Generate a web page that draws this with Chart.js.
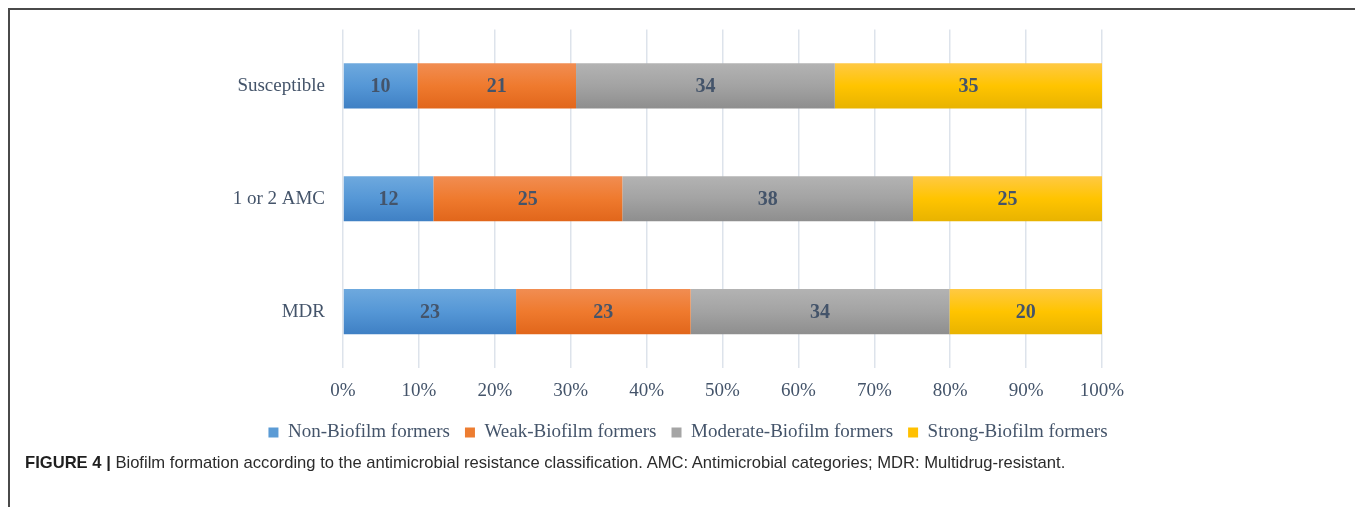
<!DOCTYPE html>
<html lang="en">
<head>
  <meta charset="UTF-8">
  <title>Figure 4 - Biofilm formation</title>
  <script src="https://cdn.jsdelivr.net/npm/chart.js"></script>
  <style>
    html, body { margin: 0; padding: 0; background: #fff; }
    body { width: 1355px; height: 507px; position: relative; overflow: hidden; }
    .frame { position: absolute; left: 8px; top: 8px; width: 1400px; height: 600px;
             border-left: 2px solid #4a4a4a; border-top: 2px solid #4a4a4a; }
    .wrap { position: absolute; left: 0; top: 0; width: 1355px; height: 455px; }
    .caption { position: absolute; left: 25px; top: 452px; font-family: "Liberation Sans", Arial, sans-serif;
               font-size: 16.6px; line-height: 22px; color: #2b2b2b; white-space: nowrap; }
    .caption b { color: #1f1f1f; }
  </style>
</head>
<body>
  <div class="frame"></div>
  <div class="wrap"><canvas id="biofilmChart"></canvas></div>
  <div class="caption"><b>FIGURE 4 |</b> Biofilm formation according to the antimicrobial resistance classification. AMC: Antimicrobial categories; MDR: Multidrug-resistant.</div>

  <script>
    // categories (rows) and the four series, in %
    const groups = ['Susceptible', '1 or 2 AMC', 'MDR'];
    const seriesNames = ['Non-Biofilm formers', 'Weak-Biofilm formers', 'Moderate-Biofilm formers', 'Strong-Biofilm formers'];
    const nonBiofilm = [9.8, 11.9, 22.8];
    const weakBiofilm = [20.9, 24.9, 23.0];
    const moderateBiofilm = [34.1, 38.3, 34.1];
    const strongBiofilm = [35.2, 24.9, 20.1];
    const xTicks = [0, 10, 20, 30, 40, 50, 60, 70, 80, 90, 100];

    const textColor = '#44546a';
    const serif = '"Liberation Serif", "Times New Roman", serif';
    const barPct = 0.4;

    // vertical gradient for every bar, like the Office look
    function shade(top, mid, bottom) {
      return (ctx) => {
        const chart = ctx.chart;
        const y = chart.scales && chart.scales.y;
        if (ctx.type !== 'data' || !y || !isFinite(y.height) || y.height <= 0) return mid;
        const c = y.getPixelForValue(ctx.dataIndex);
        const half = y.height / groups.length * barPct / 2;
        const g = chart.ctx.createLinearGradient(0, c - half, 0, c + half);
        g.addColorStop(0, top);
        g.addColorStop(0.5, mid);
        g.addColorStop(1, bottom);
        return g;
      };
    }

    const valueLabels = {
      id: 'valueLabels',
      afterDatasetsDraw(chart) {
        const c = chart.ctx;
        c.save();
        c.font = 'bold 20px ' + serif;
        c.fillStyle = textColor;
        c.textAlign = 'center';
        c.textBaseline = 'middle';
        chart.data.datasets.forEach((ds, i) => {
          chart.getDatasetMeta(i).data.forEach((bar, j) => {
            const p = bar.getCenterPoint();
            c.fillText(Math.round(ds.data[j]), p.x, p.y + 1);
          });
        });
        c.restore();
      }
    };

    // the original legend sits a bit right of the canvas centre
    const legendShift = {
      id: 'legendShift',
      afterLayout(chart) {
        const lg = chart.legend;
        if (!lg) return;
        const dx = 137;
        lg.left += dx;
        lg.right += dx;
      }
    };

    const ctx = document.getElementById('biofilmChart').getContext('2d');
    new Chart(ctx, {
      type: 'bar',
      data: {
        labels: groups,
        datasets: [
          { label: seriesNames[0], data: nonBiofilm, backgroundColor: shade('#6ea9de', '#5597d6', '#3f80c4') },
          { label: seriesNames[1], data: weakBiofilm, backgroundColor: shade('#f18d52', '#ef7a2e', '#e1661b') },
          { label: seriesNames[2], data: moderateBiofilm, backgroundColor: shade('#b3b3b3', '#a3a3a3', '#8e8e8e') },
          { label: seriesNames[3], data: strongBiofilm, backgroundColor: shade('#ffc944', '#ffc400', '#e8b300') }
        ]
      },
      options: {
        indexAxis: 'y',
        responsive: true,
        maintainAspectRatio: false,
        animation: false,
        datasets: { bar: { categoryPercentage: 1, barPercentage: barPct, borderWidth: 0 } },
        layout: { padding: { top: 24, right: 253, left: 0, bottom: 3 } },
        plugins: {
          tooltip: { enabled: false },
          legend: {
            position: 'bottom',
            labels: {
              boxWidth: 10,
              boxHeight: 10,
              padding: 15,
              color: textColor,
              font: { family: serif, size: 19 },
              generateLabels: (chart) => chart.data.datasets.map((ds, i) => ({
                text: ds.label,
                fillStyle: ['#5b9bd5', '#ed7d31', '#a5a5a5', '#ffc000'][i],
                strokeStyle: 'rgba(0,0,0,0)',
                lineWidth: 0,
                fontColor: textColor,
                datasetIndex: i
              }))
            }
          }
        },
        scales: {
          x: {
            stacked: true,
            min: 0,
            max: 100,
            afterBuildTicks: (s) => { s.ticks = xTicks.map(v => ({ value: v })); },
            afterFit: (s) => { s.height = 40; },
            ticks: {
              color: textColor,
              font: { family: serif, size: 19 },
              padding: 12,
              callback: (v) => v + '%'
            },
            grid: { color: '#dde3eb', lineWidth: 1.5, drawTicks: false },
            border: { display: false }
          },
          y: {
            stacked: true,
            afterFit: (s) => { s.width = 343; },
            ticks: { color: textColor, font: { family: serif, size: 19 }, padding: 18 },
            grid: { display: false, drawTicks: false },
            border: { display: false }
          }
        }
      },
      plugins: [valueLabels, legendShift]
    });
  </script>
</body>
</html>
